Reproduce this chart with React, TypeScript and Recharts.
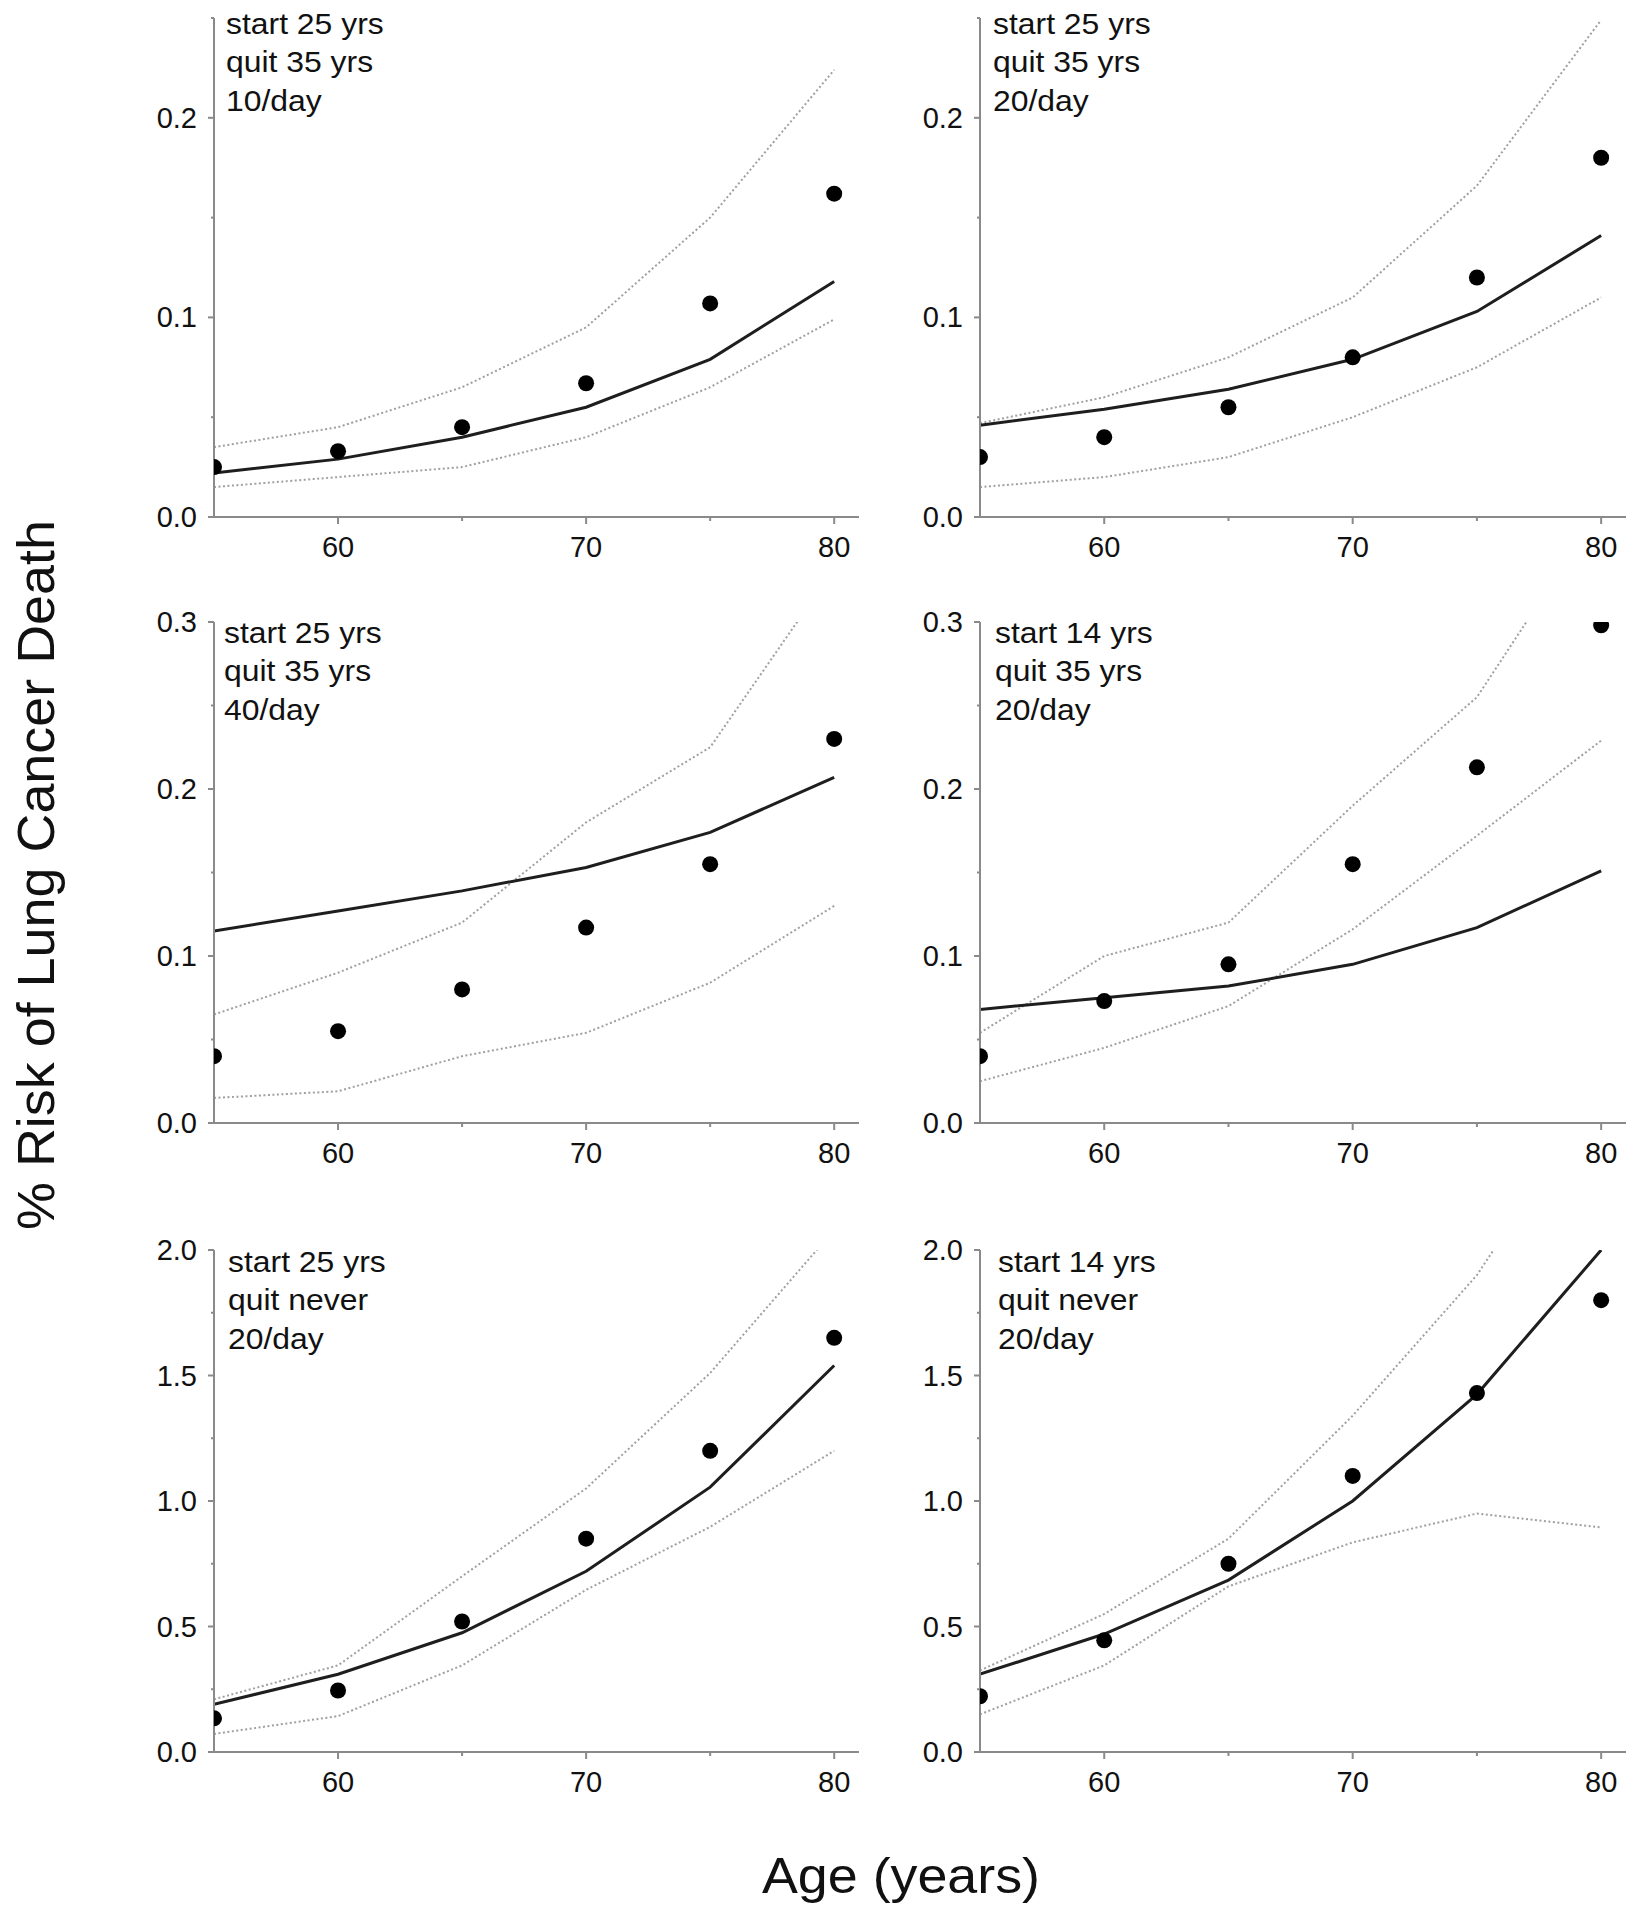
import React from 'react';
import { ComposedChart, Line, Scatter, XAxis, YAxis } from 'recharts';

// ---------- data ----------
const ages = [55, 60, 65, 70, 75, 80];

// Panel 1: start 25, quit 35, 10/day
const obs1 = [0.025, 0.033, 0.045, 0.067, 0.107, 0.162];
const model1 = [0.022, 0.029, 0.04, 0.055, 0.079, 0.118];
const hi1 = [0.035, 0.045, 0.065, 0.095, 0.15, 0.224];
const lo1 = [0.015, 0.02, 0.025, 0.04, 0.065, 0.099];

// Panel 2: start 25, quit 35, 20/day
const obs2 = [0.03, 0.04, 0.055, 0.08, 0.12, 0.18];
const model2 = [0.046, 0.054, 0.064, 0.079, 0.103, 0.141];
const hi2 = [0.047, 0.06, 0.08, 0.11, 0.166, 0.249];
const lo2 = [0.015, 0.02, 0.03, 0.05, 0.075, 0.11];

// Panel 3: start 25, quit 35, 40/day
const obs3 = [0.04, 0.055, 0.08, 0.117, 0.155, 0.23];
const model3 = [0.115, 0.127, 0.139, 0.153, 0.174, 0.207];
const hi3 = [0.065, 0.09, 0.12, 0.18, 0.225, 0.332];
const lo3 = [0.015, 0.019, 0.04, 0.054, 0.084, 0.13];

// Panel 4: start 14, quit 35, 20/day
const obs4 = [0.04, 0.073, 0.095, 0.155, 0.213, 0.298];
const model4 = [0.068, 0.075, 0.082, 0.095, 0.117, 0.151];
const hi4 = [0.054, 0.1, 0.12, 0.19, 0.255, 0.368];
const lo4 = [0.025, 0.045, 0.07, 0.116, 0.172, 0.229];

// Panel 5: start 25, quit never, 20/day
const obs5 = [0.134, 0.245, 0.52, 0.85, 1.2, 1.65];
const model5 = [0.19, 0.31, 0.475, 0.72, 1.055, 1.54];
const hi5 = [0.21, 0.345, 0.7, 1.05, 1.51, 2.08];
const lo5 = [0.072, 0.143, 0.345, 0.646, 0.897, 1.2];

// Panel 6: start 14, quit never, 20/day
const obs6 = [0.222, 0.445, 0.75, 1.1, 1.43, 1.8];
const model6 = [0.31, 0.47, 0.685, 1.0, 1.425, 2.0];
const hi6 = [0.325, 0.55, 0.85, 1.34, 1.9, 2.65];
const lo6 = [0.15, 0.345, 0.66, 0.835, 0.95, 0.895];

// ---------- ticks / labels ----------
const xTicks = [60, 65, 70, 75, 80];
const xLabels = [60, 70, 80];
const yTicksRow1 = [0, 0.05, 0.1, 0.15, 0.2, 0.25];
const yLabelsRow1 = [0, 0.1, 0.2];
const yTicksRow2 = [0, 0.05, 0.1, 0.15, 0.2, 0.25, 0.3];
const yLabelsRow2 = [0, 0.1, 0.2, 0.3];
const yTicksRow3 = [0, 0.25, 0.5, 0.75, 1, 1.25, 1.5, 1.75, 2];
const yLabelsRow3 = [0, 0.5, 1, 1.5, 2];

const text1 = ['start 25 yrs', 'quit 35 yrs', '10/day'];
const text2 = ['start 25 yrs', 'quit 35 yrs', '20/day'];
const text3 = ['start 25 yrs', 'quit 35 yrs', '40/day'];
const text4 = ['start 14 yrs', 'quit 35 yrs', '20/day'];
const text5 = ['start 25 yrs', 'quit never', '20/day'];
const text6 = ['start 14 yrs', 'quit never', '20/day'];

const yTitle = '% Risk of Lung Cancer Death';
const xTitle = 'Age (years)';

const build = (obs: number[], model: number[], lo: number[], hi: number[]) =>
  ages.map((age, i) => ({ age, obs: obs[i], model: model[i], lo: lo[i], hi: hi[i] }));

const FONT = "'Liberation Sans', Arial, Helvetica, sans-serif";
const AXIS = '#8a8a8a';

const has = (arr: number[], v: number) => arr.some((a) => Math.abs(a - v) < 1e-9);

const makeXTick = () => (props: any) => {
  const { x, y, payload } = props;
  const v = payload.value;
  const major = has(xLabels, v);
  return (
    <g>
      <line x1={x} y1={y} x2={x} y2={y + (major ? 7 : 4)} stroke={AXIS} strokeWidth={2} />
      {major && (
        <text x={x} y={y + 40} textAnchor="middle" fontSize={29} fill="#111" fontFamily={FONT}>
          {v}
        </text>
      )}
    </g>
  );
};

const makeYTick = (labels: number[]) => (props: any) => {
  const { x, y, payload } = props;
  const v = payload.value;
  const major = has(labels, v);
  return (
    <g>
      <line x1={x - (major ? 6 : 3)} y1={y} x2={x} y2={y} stroke={AXIS} strokeWidth={2} />
      {major && (
        <text x={x - 17} y={y} dy={10} textAnchor="end" fontSize={29} fill="#111" fontFamily={FONT}>
          {v.toFixed(1)}
        </text>
      )}
    </g>
  );
};

const Dot = (p: any) => <circle cx={p.cx} cy={p.cy} r={8} fill="#000" />;

interface PanelProps {
  left: number;
  top: number;
  yAxisWidth: number;
  plotW: number;
  plotTop: number;
  plotH: number;
  yMax: number;
  yTicks: number[];
  yLabels: number[];
  data: any[];
}

function Panel({ left, top, yAxisWidth, plotW, plotTop, plotH, yMax, yTicks, yLabels, data }: PanelProps) {
  const right = 12;
  const xAxisH = 60;
  const width = yAxisWidth + plotW + right;
  const height = plotTop + plotH + xAxisH;
  return (
    <div style={{ position: 'absolute', left, top, width, height }}>
      <ComposedChart
        width={width}
        height={height}
        data={data}
        margin={{ top: plotTop, right, bottom: 0, left: 0 }}
      >
        <XAxis
          dataKey="age"
          type="number"
          domain={[55, 81]}
          ticks={xTicks}
          interval={0}
          allowDataOverflow
          height={xAxisH}
          tickSize={0}
          tickMargin={0}
          tickLine={false}
          axisLine={{ stroke: AXIS, strokeWidth: 2 }}
          tick={makeXTick()}
        />
        <YAxis
          type="number"
          domain={[0, yMax]}
          ticks={yTicks}
          interval={0}
          allowDataOverflow
          width={yAxisWidth}
          tickSize={0}
          tickMargin={0}
          tickLine={false}
          axisLine={{ stroke: AXIS, strokeWidth: 2 }}
          tick={makeYTick(yLabels)}
        />
        <Line
          dataKey="hi"
          type="linear"
          stroke="#a0a0a0"
          strokeWidth={2}
          strokeDasharray="2 2.5"
          dot={false}
          activeDot={false}
          isAnimationActive={false}
        />
        <Line
          dataKey="lo"
          type="linear"
          stroke="#a0a0a0"
          strokeWidth={2}
          strokeDasharray="2 2.5"
          dot={false}
          activeDot={false}
          isAnimationActive={false}
        />
        <Line
          dataKey="model"
          type="linear"
          stroke="#1e1e1e"
          strokeWidth={3}
          dot={false}
          activeDot={false}
          isAnimationActive={false}
        />
        <Scatter dataKey="obs" fill="#000" shape={Dot} isAnimationActive={false} />
      </ComposedChart>
    </div>
  );
}

function Annot({ x, y, lines }: { x: number; y: number; lines: string[] }) {
  return (
    <g transform={`translate(${x},${y}) scale(1.1,1)`}>
      {lines.map((t, i) => (
        <text key={i} x={0} y={i * 38.5} fontSize={29} fill="#111" fontFamily={FONT}>
          {t}
        </text>
      ))}
    </g>
  );
}

export default function App() {
  const L1 = 100;
  const L2 = 865;
  const YW1 = 114;
  const YW2 = 115;
  const PW = 646;
  return (
    <div style={{ position: 'absolute', left: 0, top: 0, width: 1638, height: 1920, background: '#fff' }}>
      <Panel left={L1} top={0} yAxisWidth={YW1} plotW={PW - 1} plotTop={18} plotH={499} yMax={0.25} yTicks={yTicksRow1} yLabels={yLabelsRow1} data={build(obs1, model1, lo1, hi1)} />
      <Panel left={L2} top={0} yAxisWidth={YW2} plotW={PW} plotTop={18} plotH={499} yMax={0.25} yTicks={yTicksRow1} yLabels={yLabelsRow1} data={build(obs2, model2, lo2, hi2)} />
      <Panel left={L1} top={600} yAxisWidth={YW1} plotW={PW - 1} plotTop={22} plotH={501} yMax={0.3} yTicks={yTicksRow2} yLabels={yLabelsRow2} data={build(obs3, model3, lo3, hi3)} />
      <Panel left={L2} top={600} yAxisWidth={YW2} plotW={PW} plotTop={22} plotH={501} yMax={0.3} yTicks={yTicksRow2} yLabels={yLabelsRow2} data={build(obs4, model4, lo4, hi4)} />
      <Panel left={L1} top={1220} yAxisWidth={YW1} plotW={PW - 1} plotTop={30} plotH={502} yMax={2} yTicks={yTicksRow3} yLabels={yLabelsRow3} data={build(obs5, model5, lo5, hi5)} />
      <Panel left={L2} top={1220} yAxisWidth={YW2} plotW={PW} plotTop={30} plotH={502} yMax={2} yTicks={yTicksRow3} yLabels={yLabelsRow3} data={build(obs6, model6, lo6, hi6)} />
      <svg
        width={1638}
        height={1920}
        style={{ position: 'absolute', left: 0, top: 0, pointerEvents: 'none' }}
      >
        <Annot x={226} y={34} lines={text1} />
        <Annot x={993} y={34} lines={text2} />
        <Annot x={224} y={643} lines={text3} />
        <Annot x={995} y={643} lines={text4} />
        <Annot x={228} y={1272} lines={text5} />
        <Annot x={998} y={1272} lines={text6} />
        <text
          transform="translate(54,875) rotate(-90)"
          textAnchor="middle"
          fontSize={52}
          fill="#111"
          fontFamily={FONT}
          textLength={710}
          lengthAdjust="spacingAndGlyphs"
        >
          {yTitle}
        </text>
        <text
          x={901}
          y={1893}
          textAnchor="middle"
          fontSize={50}
          fill="#111"
          fontFamily={FONT}
          textLength={278}
          lengthAdjust="spacingAndGlyphs"
        >
          {xTitle}
        </text>
      </svg>
    </div>
  );
}
